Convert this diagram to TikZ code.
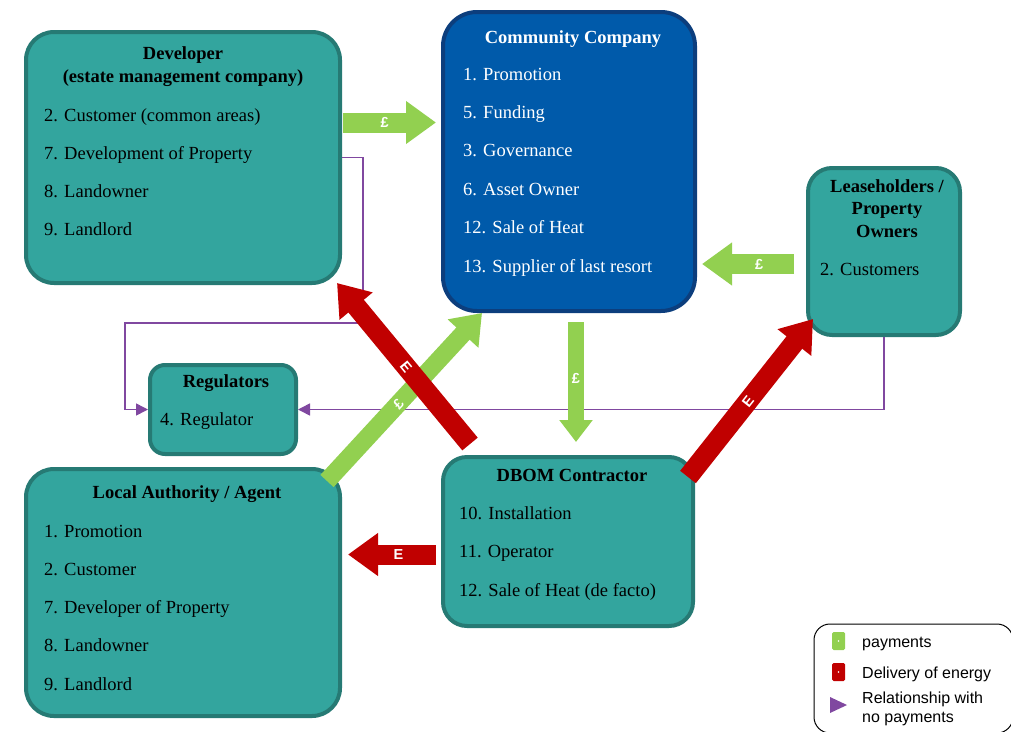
\documentclass[tikz,border=0pt]{standalone}
\usepackage{fontspec}
\setmainfont{Liberation Serif}
\newfontfamily\legendfont{Liberation Sans}
\usetikzlibrary{arrows.meta, positioning, calc}
\definecolor{tealfill}{RGB}{51,165,158}
\definecolor{tealedge}{RGB}{38,122,116}
\definecolor{comfill}{RGB}{0,90,170}
\definecolor{comedge}{RGB}{12,62,125}
\definecolor{paygreen}{RGB}{146,208,80}
\definecolor{energyred}{RGB}{192,0,0}
\definecolor{relpurple}{RGB}{128,72,160}

\begin{document}
\begin{tikzpicture}[x=1pt, y=-1pt,
    party/.style={draw=tealedge, fill=tealfill, line width=4pt, rounded corners=28pt},
    company/.style={draw=comedge, fill=comfill, line width=4pt, rounded corners=34pt},
    ttl/.style={font=\fontsize{18.5}{22.5}\selectfont\bfseries, align=center, anchor=base, inner sep=0pt},
    item/.style={font=\fontsize{18.5}{22.5}\selectfont, anchor=base west, inner sep=0pt},
    pay/.style={paygreen, line width=20pt, -{Triangle[length=30pt, width=41pt]}},
    energy/.style={energyred, line width=20pt, -{Triangle[length=30pt, width=41pt]}},
    rel/.style={relpurple, line width=1.6pt, -{Triangle[length=12pt, width=12pt]}},
    tag/.style={text=white, font=\legendfont\fontsize{14.5}{14.5}\selectfont\bfseries, inner sep=0pt},
    legtext/.style={font=\legendfont\fontsize{16}{19}\selectfont, anchor=base west, inner sep=0pt},
  ]
  \useasboundingbox (0,0) rectangle (1011,731);

  % parties
  \node[party, minimum width=314pt, minimum height=251pt] (dev) at (183,157.5) {};
  \node[company, minimum width=252pt, minimum height=299pt] (com) at (569,161.5) {};
  \node[party, rounded corners=24pt, minimum width=152pt, minimum height=167pt] (lease) at (884,251.5) {};
  \node[party, rounded corners=15pt, minimum width=146pt, minimum height=89pt] (reg) at (223,409.5) {};
  \node[party, minimum width=314pt, minimum height=247pt] (la) at (183,592.5) {};
  \node[party, rounded corners=24pt, minimum width=250pt, minimum height=169pt] (dbom) at (568,541.5) {};

  % titles (base of a two- or three-line title is its last line)
  \node[ttl] (devtitle) at (183,82) {Developer\\(estate management company)};
  \node[ttl, text=white] (comtitle) at (573,43) {Community Company};
  \node[ttl] (leasetitle) at (887,237) {Leaseholders /\\Property\\Owners};
  \node[ttl] (regtitle) at (226,387) {Regulators};
  \node[ttl] (latitle) at (187,498) {Local Authority / Agent};
  \node[ttl] (dbomtitle) at (572,481) {DBOM Contractor};

  % roles
  \foreach \txt [count=\i] in {2. Customer (common areas), 7. Development of Property, 8. Landowner, 9. Landlord}
    \node[item] (dev\i) at (44,{121+38.3*(\i-1)}) {\txt};
  \foreach \txt [count=\i] in {1. Promotion, 5. Funding, 3. Governance, 6. Asset Owner, 12. Sale of Heat, 13. Supplier of last resort}
    \node[item, text=white] (com\i) at (463,{80+38.4*(\i-1)}) {\txt};
  \node[item] (lease1) at (820,275) {2. Customers};
  \node[item] (reg1) at (160,425) {4. Regulator};
  \foreach \txt [count=\i] in {1. Promotion, 2. Customer, 7. Developer of Property, 8. Landowner, 9. Landlord}
    \node[item] (la\i) at (44,{537+38.25*(\i-1)}) {\txt};
  \foreach \txt [count=\i] in {10. Installation, 11. Operator, 12. Sale of Heat (de facto)}
    \node[item] (dbom\i) at (459,{519+38.5*(\i-1)}) {\txt};

  % relationships with no payments
  \draw[rel] (dev.east) -- ++(21,0) -- ++(0,165.5) -| ([xshift=-23pt]reg.west) -- (reg.west);
  \draw[rel] (lease.south) |- (reg.east);

  % payments
  \draw[pay, shorten <=1pt, shorten >=5pt] ([yshift=35pt]dev.east) -- ([yshift=35pt]dev.east -| com.west)
    node[tag, pos=0.43] {£};
  \draw[pay, shorten <=12pt, shorten >=5pt] ([yshift=-12.5pt]lease.west) -- ([yshift=-12.5pt]lease.west -| com.east)
    node[tag, pos=0.43] {£};
  \draw[pay, line width=16pt, -{Triangle[length=22pt, width=32pt]}, shorten <=9pt, shorten >=13pt]
    ([xshift=7pt]com.south) -- ([xshift=7pt]com.south |- dbom.north)
    node[tag, pos=0.46] {£};
  \draw[pay, line width=18pt, -{Triangle[length=28pt, width=40pt]}]
    ([xshift=-15pt, yshift=-14pt]la.north east) -- ([xshift=41pt]com.south west)
    node[tag, sloped, pos=0.46] {£};

  % delivery of energy
  \draw[energy, shorten <=5pt, shorten >=6pt] ([yshift=-13pt]dbom.west) -- ([yshift=-13pt]dbom.west -| la.east)
    node[tag, pos=0.43] {E};
  \draw[energy] ([xshift=29pt, yshift=11pt]dbom.north west) -- ([xshift=-5pt, yshift=2pt]dev.south east)
    node[tag, sloped, pos=0.48] {E};
  \draw[energy] ([xshift=-7pt, yshift=-22pt]dbom.north east) -- ([xshift=7pt, yshift=18pt]lease.south west)
    node[tag, sloped, pos=0.48] {E};

  % legend
  \node[draw=black, line width=1pt, rounded corners=16pt, minimum width=199pt, minimum height=109pt] (legend) at (913.5,678.5) {};
  \node[fill=paygreen, rounded corners=1.5pt, minimum width=13pt, minimum height=18pt, inner sep=0pt] (keypay) at (838.5,641) {};
  \node[fill=energyred, rounded corners=1.5pt, minimum width=13pt, minimum height=18pt, inner sep=0pt] (keyenergy) at (838.5,672) {};
  \fill[white] (keypay.center) circle (0.8pt) (keyenergy.center) circle (0.8pt);
  \fill[relpurple] (830,697) -- (847,705) -- (830,713) -- cycle;
  \node[legtext] (legpay) at (862,647.5) {payments};
  \node[legtext] (legenergy) at (862,678) {Delivery of energy};
  \node[legtext] (legrel) at (862,703) {Relationship with};
  \node[legtext] (legrel2) at (862,722.5) {no payments};
\end{tikzpicture}
\end{document}
